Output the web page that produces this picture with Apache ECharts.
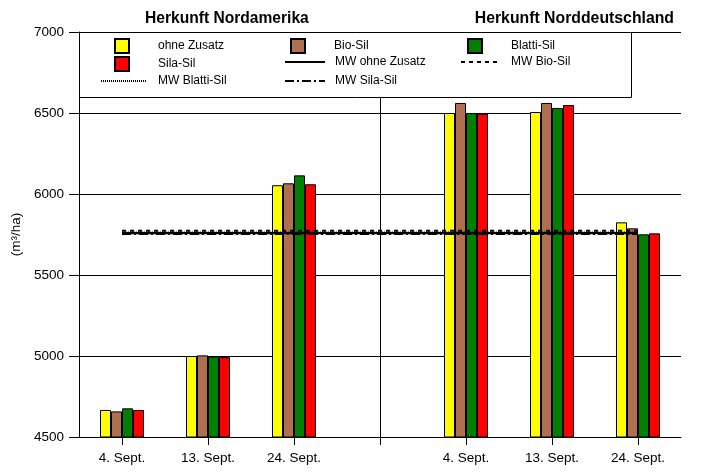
<!DOCTYPE html>
<html>
<head>
<meta charset="utf-8">
<script src="https://cdn.jsdelivr.net/npm/echarts@6/dist/echarts.min.js"></script>
<style>
html,body{margin:0;padding:0;background:#fff;}
#chart{width:723px;height:473px;}
</style>
</head>
<body>
<div id="chart"></div>
<script>
const categories = ['4. Sept.', '13. Sept.', '24. Sept.', '', '4. Sept.', '13. Sept.', '24. Sept.'];
const ohneZusatz = [4667, 5000, 6054, null, 6500, 6506, 5825];
const bioSil     = [4658, 5004, 6066, null, 6562, 6562, 5788];
const blattiSil  = [4677, 4996, 6115, null, 6500, 6531, 5751];
const silaSil    = [4667, 4993, 6060, null, 6495, 6549, 5757];
const mwOhneZusatz = [5759, 5759, 5759, 5759, 5759, 5759, 5759];
const mwBioSil     = [5773, 5773, 5773, 5773, 5773, 5773, 5773];
const mwBlattiSil  = [5762, 5762, 5762, 5762, 5762, 5762, 5762];
const mwSilaSil    = [5753, 5753, 5753, 5753, 5753, 5753, 5753];
const yTicks = {min: 4500, max: 7000, interval: 500};

const FONT = 'Liberation Sans, Arial, sans-serif';
const chart = echarts.init(document.getElementById('chart'), null, {renderer: 'canvas'});

function barSeries(name, data, color) {
  return {
    name: name, type: 'bar', data: data, barWidth: 11, barGap: '0%',
    itemStyle: {color: color, borderColor: '#000', borderWidth: 1},
    emphasis: {disabled: true}, z: 2
  };
}
function lineSeries(name, data, type, extra) {
  return Object.assign({
    name: name, type: 'line', data: data, symbol: 'none', z: 5,
    itemStyle: {color: '#000'},
    lineStyle: {color: '#000', width: 2.2, type: type},
    emphasis: {disabled: true}
  }, extra || {});
}
function legendItem(name, left, top, w, pad, isLine) {
  const o = {
    data: [name], left: left, top: top, orient: 'horizontal', padding: 0,
    itemWidth: w, itemHeight: 14, selectedMode: false, z: 20,
    textStyle: {fontFamily: FONT, fontSize: 12, color: '#000', padding: [0, 0, 0, pad]}
  };
  if (isLine) {
    o.itemStyle = {opacity: 0, color: 'rgba(0,0,0,0)', borderWidth: 0};
  } else {
    o.icon = 'rect';
  }
  return o;
}

const option = {
  animation: false,
  backgroundColor: '#fff',
  title: [
    {text: 'Herkunft Nordamerika', left: 145, top: 11, padding: 0,
     textStyle: {fontFamily: FONT, fontSize: 15.6, fontWeight: 'bold', color: '#000'}},
    {text: 'Herkunft Norddeutschland', right: 49, top: 11, padding: 0,
     textStyle: {fontFamily: FONT, fontSize: 15.8, fontWeight: 'bold', color: '#000'}}
  ],
  graphic: [{
    type: 'rect', z: 10, left: 79, top: 32,
    shape: {width: 552, height: 65},
    style: {fill: '#fff', stroke: '#000', lineWidth: 1}
  }],
  legend: [
    legendItem('ohne Zusatz', 114, 38, 14, 24, false),
    legendItem('Bio-Sil', 290, 38, 14, 24, false),
    legendItem('Blatti-Sil', 467, 38, 14, 24, false),
    legendItem('Sila-Sil', 114, 56, 14, 24, false),
    legendItem('MW ohne Zusatz', 284, 56, 40, 5, true),
    legendItem('MW Bio-Sil', 460, 56, 40, 5, true),
    legendItem('MW Blatti-Sil', 100, 75, 45, 7, true),
    legendItem('MW Sila-Sil', 284, 75, 40, 5, true)
  ],
  grid: {left: 79, right: 42, top: 32, bottom: 36},
  xAxis: {
    type: 'category', data: categories, boundaryGap: true,
    axisLine: {lineStyle: {color: '#000', width: 1}},
    axisTick: {show: true, alignWithLabel: true, length: 8, lineStyle: {color: '#000'}},
    axisLabel: {fontFamily: FONT, fontSize: 13.5, color: '#000', margin: 14, interval: 0},
    splitLine: {show: false}
  },
  yAxis: {
    type: 'value', min: yTicks.min, max: yTicks.max, interval: yTicks.interval,
    name: '(m³/ha)', nameLocation: 'middle', nameGap: 51, nameRotate: 90,
    nameTextStyle: {fontFamily: FONT, fontSize: 13.5, color: '#000'},
    axisLine: {show: true, lineStyle: {color: '#000', width: 1}},
    axisTick: {show: true, length: 10, lineStyle: {color: '#000'}},
    axisLabel: {fontFamily: FONT, fontSize: 13.5, color: '#000', margin: 15,
                formatter: function (v) { return String(v); }},
    splitLine: {show: true, lineStyle: {color: '#000', width: 1}}
  },
  series: [
    barSeries('ohne Zusatz', ohneZusatz, '#ffff00'),
    barSeries('Bio-Sil', bioSil, '#b07050'),
    barSeries('Blatti-Sil', blattiSil, '#008000'),
    barSeries('Sila-Sil', silaSil, '#ff0000'),
    lineSeries('MW ohne Zusatz', mwOhneZusatz, 'solid', {
      markLine: {
        silent: true, symbol: 'none', label: {show: false},
        lineStyle: {color: '#000', width: 1, type: 'solid'},
        emphasis: {disabled: true},
        data: [{xAxis: 3}]
      }
    }),
    lineSeries('MW Bio-Sil', mwBioSil, [4, 4]),
    lineSeries('MW Blatti-Sil', mwBlattiSil, [1, 1]),
    lineSeries('MW Sila-Sil', mwSilaSil, [9, 3, 2, 3])
  ]
};
chart.setOption(option);
</script>
</body>
</html>
